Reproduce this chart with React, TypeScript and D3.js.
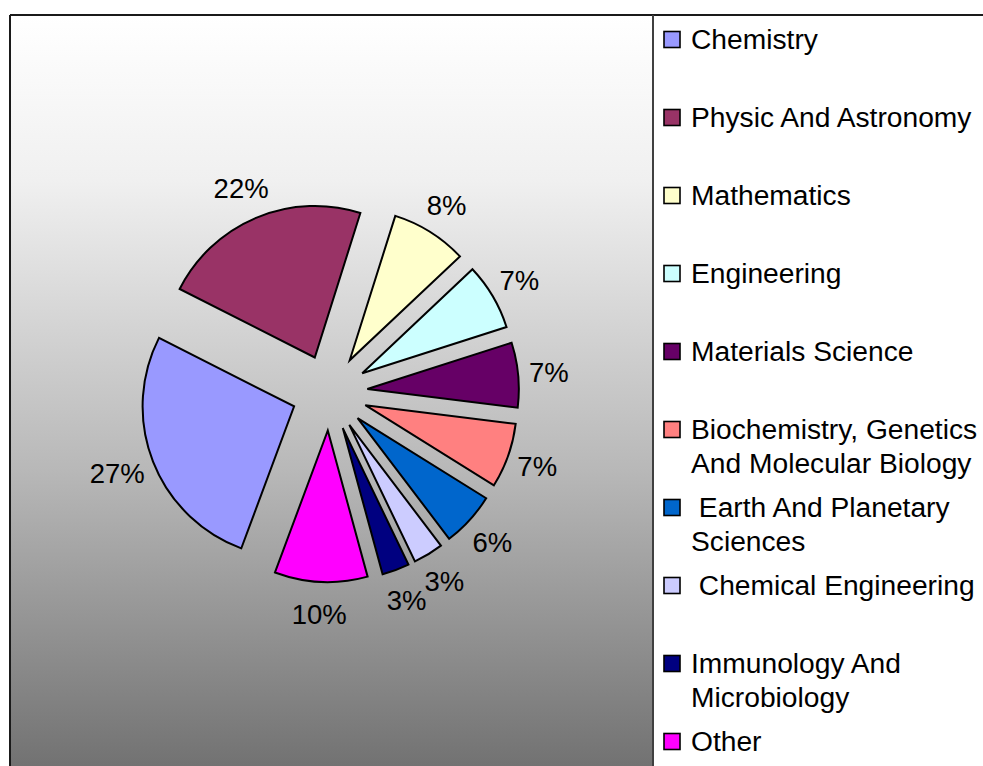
import React from "react";
import * as d3 from "d3";

// ---- data ----
const categories: string[] = [
  "Chemistry",
  "Physic And Astronomy",
  "Mathematics",
  "Engineering",
  "Materials Science",
  "Biochemistry, Genetics And Molecular Biology",
  "Earth And Planetary Sciences",
  "Chemical Engineering",
  "Immunology And Microbiology",
  "Other",
];
const shares: number[] = [26.8, 22.4, 8.1, 7.1, 6.9, 6.9, 5.8, 3.2, 2.9, 9.9];
const legendLines: string[][] = [
  ["Chemistry"],
  ["Physic And Astronomy"],
  ["Mathematics"],
  ["Engineering"],
  ["Materials Science"],
  ["Biochemistry, Genetics", "And Molecular Biology"],
  [" Earth And Planetary", "Sciences"],
  [" Chemical Engineering"],
  ["Immunology And", "Microbiology"],
  ["Other"],
];
const colors: string[] = [
  "#9999FF",
  "#993366",
  "#FFFFCC",
  "#CCFFFF",
  "#660066",
  "#FF8080",
  "#0066CC",
  "#CCCCFF",
  "#000080",
  "#FF00FF",
];

const W = 983;
const H = 766;
const FONT = "'Liberation Sans', Arial, sans-serif";
const FS = 28.2;
const LFS = 27.5;

export default function App() {
  const cx = 329.5;
  const cy = 392.5;
  const r = 151.5;
  const explode = 38;
  const labelR = r + explode + 11;
  const boxHalfH = 21;
  const start = (200.4 * Math.PI) / 180;

  const pie = d3
    .pie<number>()
    .sort(null)
    .value((d) => d)
    .startAngle(start)
    .endAngle(start + 2 * Math.PI);
  const arcs = pie(shares);
  const arcGen = d3.arc<d3.PieArcDatum<number>>().innerRadius(0).outerRadius(r);
  const total = d3.sum(shares);

  const textWidth = (s: string) => {
    let w = 0;
    for (const ch of s) w += ch === "%" ? 0.889 : 0.556;
    return w * LFS;
  };
  const capH = 0.716 * LFS;

  const plotX0 = 10;
  const plotY0 = 15;
  const plotX1 = 653;

  const legX = 664;
  const legTextX = 691;
  const legBase0 = 49;
  const legStep = 78;
  const lineH = 34;

  return (
    <svg
      width={W}
      height={H}
      style={{ position: "absolute", left: 0, top: 0, display: "block" }}
      fontFamily={FONT}
    >
      <defs>
        <linearGradient id="bg" gradientUnits="userSpaceOnUse" x1="0" y1={plotY0} x2="0" y2={H}>
          <stop offset="0" stopColor="#ffffff" />
          <stop offset={(180 - plotY0) / (H - plotY0)} stopColor="#f0f0f0" />
          <stop offset={(470 - plotY0) / (H - plotY0)} stopColor="#b8b8b8" />
          <stop offset="1" stopColor="#727272" />
        </linearGradient>
      </defs>
      <rect x={0} y={0} width={W} height={H} fill="#ffffff" />
      <rect x={plotX0} y={plotY0} width={plotX1 - plotX0} height={H - plotY0 + 5} fill="url(#bg)" />
      {/* frame */}
      <line x1={plotX0} y1={plotY0} x2={W} y2={plotY0} stroke="#1a1a1a" strokeWidth={2} />
      <line x1={plotX0} y1={plotY0} x2={plotX0} y2={H} stroke="#1a1a1a" strokeWidth={2} />
      <line x1={plotX1} y1={plotY0} x2={plotX1} y2={H} stroke="#404040" strokeWidth={2} />

      {/* slices */}
      {arcs.map((a, i) => {
        const mid = (a.startAngle + a.endAngle) / 2;
        const dx = explode * Math.sin(mid);
        const dy = -explode * Math.cos(mid);
        return (
          <path
            key={categories[i]}
            d={arcGen(a) || ""}
            transform={`translate(${cx + dx},${cy + dy})`}
            fill={colors[i]}
            stroke="#000"
            strokeWidth={2}
            strokeLinejoin="miter"
          />
        );
      })}

      {/* labels */}
      {arcs.map((a, i) => {
        const mid = (a.startAngle + a.endAngle) / 2;
        const s = Math.sin(mid);
        const c = Math.cos(mid);
        const txt = `${Math.round((shares[i] / total) * 100)}%`;
        const w = textWidth(txt);
        const x = cx + labelR * s + (w / 2) * s;
        const y = cy - labelR * c - boxHalfH * c;
        return (
          <text
            key={"l" + i}
            x={x}
            y={y + capH / 2}
            textAnchor="middle"
            fontSize={LFS}
            fill="#000"
          >
            {txt}
          </text>
        );
      })}

      {/* legend */}
      {legendLines.map((lines, i) => {
        const base = legBase0 + legStep * i;
        return (
          <g key={"g" + i}>
            <rect
              x={legX}
              y={base - 9.5 - 8}
              width={16}
              height={16}
              fill={colors[i]}
              stroke="#000"
              strokeWidth={1.6}
            />
            {lines.map((ln, j) => (
              <text
                key={j}
                x={legTextX}
                y={base + j * lineH}
                fontSize={FS}
                fill="#000"
                style={{ whiteSpace: "pre" }}
                xmlSpace="preserve"
              >
                {ln}
              </text>
            ))}
          </g>
        );
      })}
    </svg>
  );
}
